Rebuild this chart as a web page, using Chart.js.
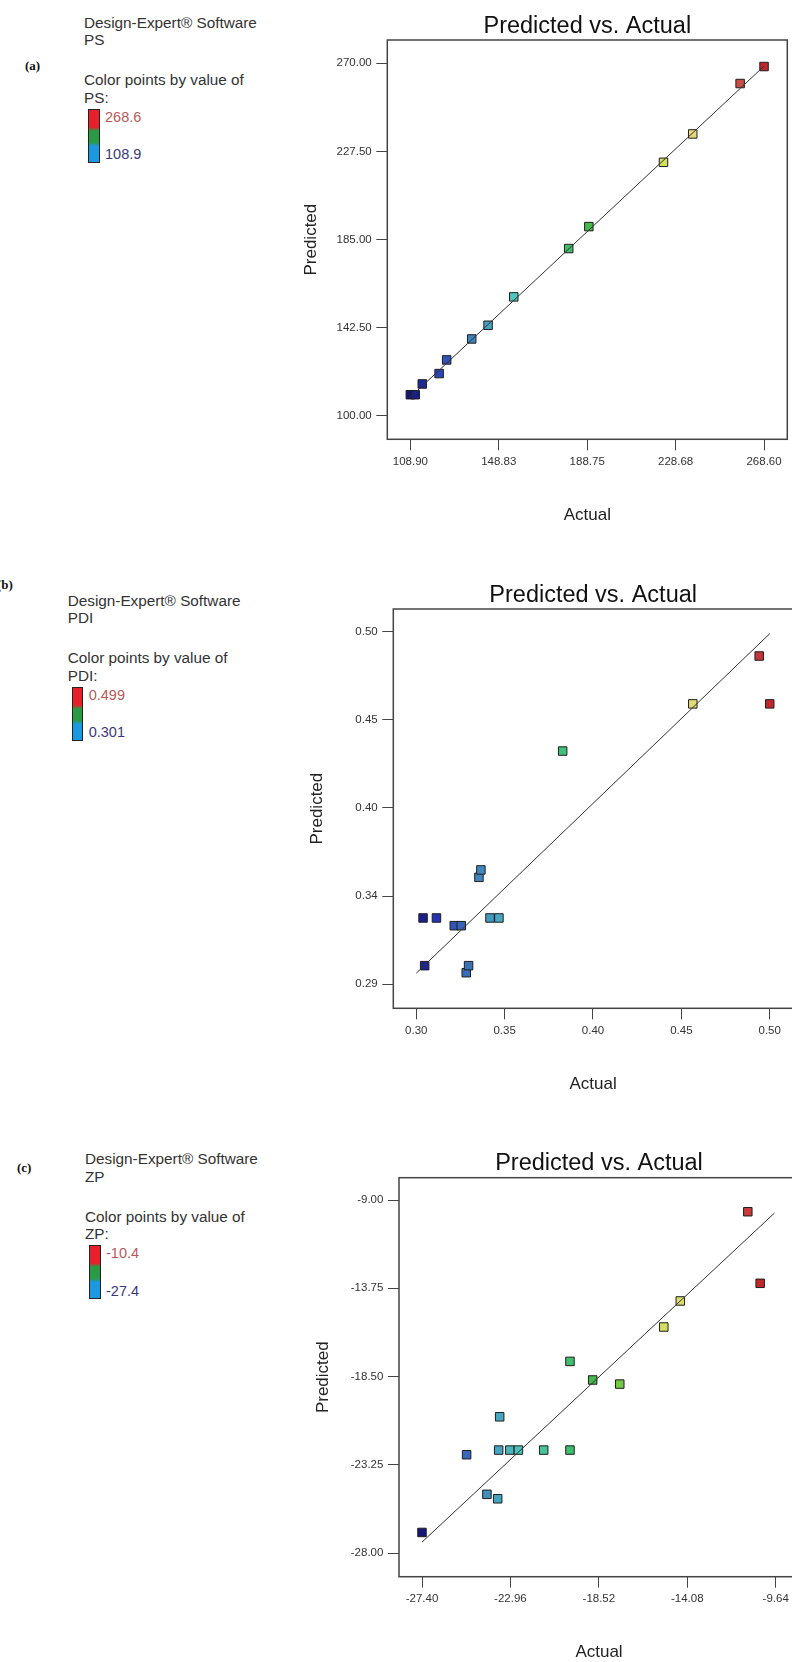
<!DOCTYPE html>
<html>
<head>
<meta charset="utf-8">
<title>Predicted vs. Actual</title>
<script src="https://cdn.jsdelivr.net/npm/chart.js@4.4.0/dist/chart.umd.min.js"></script>
<style>
  html, body { margin: 0; padding: 0; width: 792px; height: 1662px; overflow: hidden; background: #fff; }
  canvas { position: absolute; }
  .t { position: absolute; font-family: "Liberation Sans", Arial, sans-serif; font-size: 15.3px; line-height: 18px; color: #333; white-space: nowrap; }
  .v { font-size: 14.5px; }
  .lab { position: absolute; font-family: "Liberation Serif", "Times New Roman", serif; font-weight: bold; font-size: 13px; line-height: 16px; color: #111; }
  .bar { position: absolute; box-sizing: border-box; border: 1px solid #222;
         background: linear-gradient(to bottom, #e8202a 0%, #e8202a 33%, #2a9a44 40%, #2a9a44 62%, #1c98e0 70%, #1c98e0 100%); }
</style>
</head>
<body>
<canvas id="chartPS" width="510" height="540" style="left:290px;top:0px"></canvas>
<canvas id="chartPDI" width="510" height="540" style="left:290px;top:570px"></canvas>
<canvas id="chartZP" width="520" height="540" style="left:290px;top:1140px"></canvas>
<script>
// (a) PS
const psActual    = [108.9, 111.1, 114.3, 121.9, 125.3, 136.6, 144.0, 155.6, 180.4, 189.5, 223.2, 236.4, 257.8, 268.6];
const psPredicted = [110.1, 110.1, 115.3, 120.3, 126.9, 137.0, 143.6, 157.3, 180.6, 191.2, 222.2, 235.9, 260.2, 268.4];
const psRange   = [108.9, 268.6];
const psXTicks  = [108.90, 148.83, 188.75, 228.68, 268.60];
const psXLabels = ['108.90', '148.83', '188.75', '228.68', '268.60'];
const psYTicks  = [100.00, 142.50, 185.00, 227.50, 270.00];
const psYLabels = ['100.00', '142.50', '185.00', '227.50', '270.00'];
const psLineX   = [108.9, 268.6];
const psLineY   = [108.9, 268.6];

// (b) PDI
const pdiActual    = [0.3048, 0.3057, 0.3123, 0.3223, 0.3262, 0.3290, 0.3303, 0.3361, 0.3372, 0.3423, 0.3473, 0.3830, 0.4559, 0.4931, 0.4990];
const pdiPredicted = [0.3295, 0.3011, 0.3295, 0.3249, 0.3249, 0.2969, 0.3011, 0.3537, 0.3581, 0.3295, 0.3295, 0.4289, 0.4570, 0.4855, 0.4570];
const pdiRange   = [0.301, 0.499];
const pdiXTicks  = [0.301, 0.3505, 0.400, 0.4495, 0.499];
const pdiXLabels = ['0.30', '0.35', '0.40', '0.45', '0.50'];
const pdiYTicks  = [0.29, 0.3425, 0.395, 0.4475, 0.50];
const pdiYLabels = ['0.29', '0.34', '0.40', '0.45', '0.50'];
const pdiLineX   = [0.301, 0.499];
const pdiLineY   = [0.2966, 0.4988];

// (c) ZP
const zpActual    = [-27.40, -25.16, -24.14, -23.60, -23.55, -23.50, -22.99, -22.56, -21.29, -19.97, -19.97, -18.83, -17.47, -15.26, -14.43, -11.04, -10.42];
const zpPredicted = [-26.88, -22.70, -24.83, -25.07, -22.45, -20.66, -22.45, -22.45, -22.45, -22.45, -17.68, -18.68, -18.90, -15.83, -14.43, -9.63, -13.48];
const zpRange   = [-27.4, -10.4];
const zpXTicks  = [-27.40, -22.96, -18.52, -14.08, -9.64];
const zpXLabels = ['-27.40', '-22.96', '-18.52', '-14.08', '-9.64'];
const zpYTicks  = [-28.00, -23.25, -18.50, -13.75, -9.00];
const zpYLabels = ['-28.00', '-23.25', '-18.50', '-13.75', '-9.00'];
const zpLineX   = [-27.4, -9.7];
const zpLineY   = [-27.4, -9.7];

const FONT = "'Liberation Sans', Arial, sans-serif";

// blue -> cyan -> green -> yellow -> red, like the Design-Expert point colouring
const colorStops = [
  [0.00, [22, 22, 122]],
  [0.06, [37, 54, 184]],
  [0.14, [58, 108, 184]],
  [0.22, [70, 162, 194]],
  [0.30, [79, 202, 184]],
  [0.40, [64, 194, 133]],
  [0.50, [66, 184, 74]],
  [0.60, [124, 204, 66]],
  [0.70, [207, 224, 90]],
  [0.80, [230, 217, 122]],
  [0.90, [204, 96, 88]],
  [1.00, [192, 38, 42]]
];

function colorFor(t) {
  t = Math.max(0, Math.min(1, t));
  for (let i = 1; i < colorStops.length; i++) {
    const [t1, c1] = colorStops[i];
    const [t0, c0] = colorStops[i - 1];
    if (t <= t1) {
      const f = (t - t0) / (t1 - t0);
      const c = c0.map((v, k) => Math.round(v + (c1[k] - v) * f));
      return 'rgb(' + c.join(',') + ')';
    }
  }
  return 'rgb(192,38,42)';
}

const frameBox = {
  id: 'frameBox',
  afterDatasetsDraw(chart) {
    const a = chart.chartArea;
    const ctx = chart.ctx;
    ctx.save();
    ctx.strokeStyle = '#444';
    ctx.lineWidth = 1.5;
    ctx.strokeRect(a.left, a.top, a.right - a.left, a.bottom - a.top);
    ctx.restore();
  }
};

function makeChart(id, p) {
  const colors = p.actual.map(v => colorFor((v - p.range[0]) / (p.range[1] - p.range[0])));
  new Chart(document.getElementById(id), {
    type: 'scatter',
    data: {
      datasets: [
        {
          data: p.lineX.map((x, i) => ({ x: x, y: p.lineY[i] })),
          showLine: true,
          borderColor: '#333',
          borderWidth: 1,
          pointRadius: 0
        },
        {
          data: p.actual.map((x, i) => ({ x: x, y: p.predicted[i] })),
          pointStyle: 'rect',
          pointRadius: 6,
          backgroundColor: colors,
          borderColor: '#1e1e1e',
          borderWidth: 1
        }
      ]
    },
    options: {
      responsive: false,
      animation: false,
      layout: { padding: p.pad },
      plugins: {
        legend: { display: false },
        tooltip: { enabled: false },
        title: {
          display: true,
          text: 'Predicted vs. Actual',
          fullSize: false,
          color: '#111',
          font: { family: FONT, size: 23.5, weight: 'normal', lineHeight: 1 },
          padding: p.titlePad
        }
      },
      scales: {
        x: {
          type: 'linear',
          min: p.xMin, max: p.xMax,
          afterFit: s => { s.height = 100; },
          afterBuildTicks: s => { s.ticks = p.xTicks.map(v => ({ value: v })); },
          ticks: { callback: (v, i) => p.xLabels[i], color: '#333', font: { family: FONT, size: 11.5 }, padding: 4.7, maxRotation: 0, autoSkip: false },
          grid: { drawOnChartArea: false, drawTicks: true, tickLength: 11, color: '#444' },
          border: { display: false },
          title: { display: true, text: 'Actual', color: '#222', font: { family: FONT, size: 17, lineHeight: 1 }, padding: { top: 0, bottom: 15.5 } }
        },
        y: {
          type: 'linear',
          min: p.yMin, max: p.yMax,
          afterFit: s => { s.width = p.yWidth; },
          afterBuildTicks: s => { s.ticks = p.yTicks.map(v => ({ value: v })); },
          ticks: { callback: (v, i) => p.yLabels[i], color: '#333', font: { family: FONT, size: 11.5 }, padding: 4.6, autoSkip: false },
          grid: { drawOnChartArea: false, drawTicks: true, tickLength: 11, color: '#444' },
          border: { display: false },
          title: { display: true, text: 'Predicted', color: '#222', font: { family: FONT, size: 17, lineHeight: 1 }, padding: { top: p.yTitlePad, bottom: 0 } }
        }
      }
    },
    plugins: [frameBox]
  });
}

makeChart('chartPS', {
  actual: psActual, predicted: psPredicted, range: psRange,
  xTicks: psXTicks, xLabels: psXLabels, yTicks: psYTicks, yLabels: psYLabels,
  lineX: psLineX, lineY: psLineY,
  xMin: 98.5, xMax: 279.1, yMin: 88.6, yMax: 281.2,
  pad: { left: 0, top: 0, right: 12.7, bottom: 0.7 },
  titlePad: { top: 15.25, bottom: 1.25 }, yWidth: 97.3, yTitlePad: 12.8
});

makeChart('chartPDI', {
  actual: pdiActual, predicted: pdiPredicted, range: pdiRange,
  xTicks: pdiXTicks, xLabels: pdiXLabels, yTicks: pdiYTicks, yLabels: pdiYLabels,
  lineX: pdiLineX, lineY: pdiLineY,
  xMin: 0.28813, xMax: 0.51204, yMin: 0.2757, yMax: 0.5135,
  pad: { left: 0, top: 0, right: 6.7, bottom: 1.7 },
  titlePad: { top: 13.5, bottom: 2 }, yWidth: 103.3, yTitlePad: 18.8
});

makeChart('chartZP', {
  actual: zpActual, predicted: zpPredicted, range: zpRange,
  xTicks: zpXTicks, xLabels: zpXLabels, yTicks: zpYTicks, yLabels: zpYLabels,
  lineX: zpLineX, lineY: zpLineY,
  xMin: -28.555, xMax: -8.470, yMin: -29.26, yMax: -7.80,
  pad: { left: 0, top: 0, right: 11, bottom: 3.3 },
  titlePad: { top: 11.85, bottom: 2.35 }, yWidth: 109, yTitlePad: 24.5
});

// Legend blocks at the left of each plot
function addDiv(cls, text, left, centerY, lineH, color) {
  const d = document.createElement('div');
  d.className = cls;
  d.textContent = text;
  d.style.left = left + 'px';
  d.style.top = (centerY - lineH / 2) + 'px';
  if (color) d.style.color = color;
  document.body.appendChild(d);
}

function addLegend(tag, tagX, tagY, name, x, y, range) {
  addDiv('lab', tag, tagX, tagY, 16);
  addDiv('t', 'Design-Expert\u00AE Software', x, y, 18);
  addDiv('t', name, x, y + 17.5, 18);
  addDiv('t', 'Color points by value of', x, y + 57.5, 18);
  addDiv('t', name + ':', x, y + 75, 18);
  const bar = document.createElement('div');
  bar.className = 'bar';
  bar.style.left = (x + 4) + 'px';
  bar.style.top = (y + 86) + 'px';
  bar.style.width = '11.5px';
  bar.style.height = '54px';
  document.body.appendChild(bar);
  addDiv('t v', String(range[1]), x + 21, y + 94, 18, '#b85a5a');
  addDiv('t v', String(range[0]), x + 21, y + 131.5, 18, '#3a3a7a');
}

addLegend('(a)', 25, 66, 'PS', 84, 22.5, psRange);
addLegend('(b)', -3, 585, 'PDI', 67.7, 600.7, pdiRange);
addLegend('(c)', 17, 1168.3, 'ZP', 85, 1159.3, zpRange);
</script>
</body>
</html>
